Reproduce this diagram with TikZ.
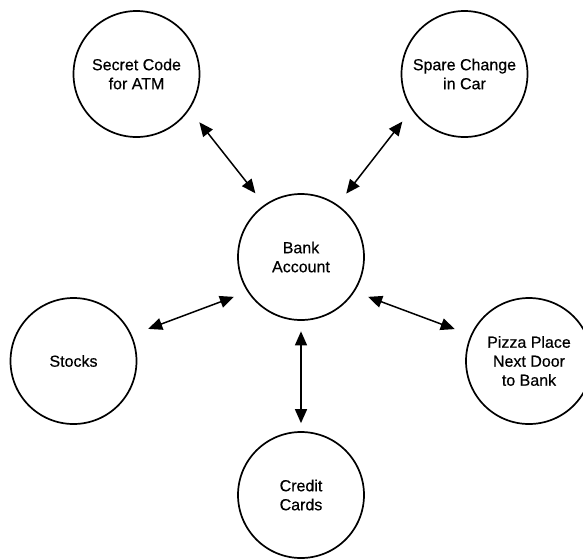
\documentclass[tikz,border=0pt]{standalone}
\usepackage{fontspec}
\setmainfont{Liberation Sans}
\newfontfamily\labelfont[RawFeature={embolden=0.5}]{Liberation Sans}
\usetikzlibrary{arrows.meta}
\begin{document}
\begin{tikzpicture}[x=1pt,y=-1pt,
  topic/.style={draw, circle, line width=1.7pt, minimum size=126pt, inner sep=0pt,
    align=center, font=\labelfont\fontsize{16}{19}\selectfont},
  link/.style={line width=1.5pt,
    {Triangle[length=14pt,width=12pt]}-{Triangle[length=14pt,width=12pt]}}]
\useasboundingbox (0,0) rectangle (583,558);
\clip (0,0) rectangle (583,558);

% circles
\node[topic] (bank)   at (301,257) {Bank\\Account};
\node[topic] (secret) at (136.5,74) {Secret Code\\for ATM};
\node[topic] (spare)  at (464.5,74) {Spare Change\\in Car};
\node[topic] (stocks) at (73.5,361) {Stocks};
\node[topic] (pizza)  at (529,361) {Pizza Place\\Next Door\\to Bank};
\node[topic] (credit) at (301,495) {Credit\\Cards};

% two-way links, kept clear of the circles
\draw[link, shorten <=14.5pt, shorten >=16pt] (bank.125) -- (secret.-34);
\draw[link, shorten <=14pt,   shorten >=15pt] (bank.55)  -- (spare.-146);
\draw[link, shorten <=14.5pt, shorten >=17.5pt] (bank.213) -- (stocks.24);
\draw[link, shorten <=14.5pt, shorten >=17pt] (bank.-33) -- (pizza.156);
\draw[link, shorten <=10.5pt, shorten >=8pt] (bank.-90) -- (credit.90);
\end{tikzpicture}
\end{document}
